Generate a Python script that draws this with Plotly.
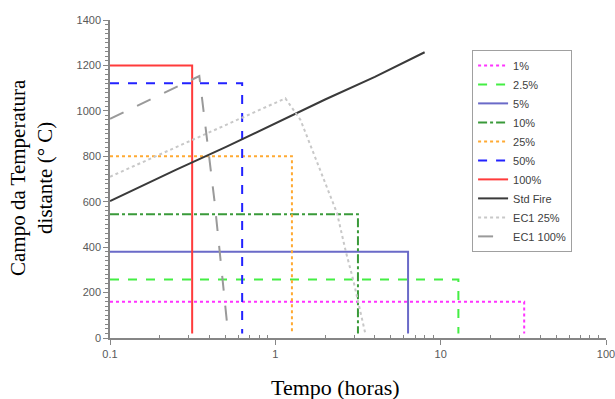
import plotly.graph_objects as go

# Fire-resistance rectangles: temperature level and end time (hours)
rect_names = ["1%", "2.5%", "5%", "10%", "25%", "50%", "100%"]
rect_levels = [160, 258, 380, 545, 800, 1122, 1200]
rect_end_hours = [32, 12.8, 6.35, 3.16, 1.26, 0.63, 0.314]
rect_start_hour = 0.1
rect_floor = 20

# Standard fire curve
std_t = [0.1, 0.25, 0.5, 1, 2, 4, 8]
std_T = [603, 740, 840, 945, 1050, 1150, 1258]

# EC1 25% curve
ec25_t = [0.1, 1.15, 1.42, 2.05, 2.36, 2.67, 2.96, 3.5]
ec25_T = [710, 1055, 960, 666, 550, 380, 255, 20]

# EC1 100% curve
ec100_t = [0.1, 0.347, 0.428, 0.518]
ec100_T = [965, 1153, 607, 20]

x_ticks = [0.1, 1, 10, 100]
x_tick_text = ["0.1", "1", "10", "100"]
x_minor_ticks = [0.2, 0.3, 0.4, 0.5, 0.6, 0.7, 0.8, 0.9,
                 2, 3, 4, 5, 6, 7, 8, 9,
                 20, 30, 40, 50, 60, 70, 80, 90]
y_ticks = [0, 200, 400, 600, 800, 1000, 1200, 1400]

rect_styles = [
    dict(color="#FF33FF", dash="dot", width=2),
    dict(color="#44EE44", dash="dash", width=2),
    dict(color="#6A6AC8", dash="solid", width=2),
    dict(color="#3A9A3A", dash="dashdot", width=2),
    dict(color="#FFAA33", dash="dot", width=2),
    dict(color="#2222FF", dash="dash", width=2),
    dict(color="#FF3B3B", dash="solid", width=2),
]

fig = go.Figure()
for name, lvl, tend, st in zip(rect_names, rect_levels, rect_end_hours, rect_styles):
    fig.add_trace(go.Scatter(x=[rect_start_hour, tend, tend], y=[lvl, lvl, rect_floor],
                             mode="lines", name=name, line=st))

fig.add_trace(go.Scatter(x=std_t, y=std_T, mode="lines", name="Std Fire",
                         line=dict(color="#3A3A3A", width=2)))
fig.add_trace(go.Scatter(x=ec25_t, y=ec25_T, mode="lines", name="EC1 25%",
                         line=dict(color="#C8C8C8", dash="dot", width=2)))
fig.add_trace(go.Scatter(x=ec100_t, y=ec100_T, mode="lines", name="EC1 100%",
                         line=dict(color="#9A9A9A", dash="longdash", width=2)))

axis_color = "#868686"
tick_font = dict(family="Liberation Sans", size=11, color="#595959")

fig.update_layout(
    width=615, height=399,
    margin=dict(l=110, r=9, t=20, b=61, autoexpand=False),
    paper_bgcolor="white", plot_bgcolor="white",
    showlegend=True,
    legend=dict(x=0.73, y=0.906, xanchor="left", yanchor="top",
                bgcolor="white", bordercolor="#A0A0A0", borderwidth=1,
                font=dict(family="Liberation Sans", size=11, color="#404040"),
                tracegroupgap=0),
    xaxis=dict(type="log", range=[-1, 2], tickmode="array", tickvals=x_ticks, ticktext=x_tick_text,
               automargin=False, ticklabeloverflow="allow",
               showgrid=False, zeroline=False, showline=True, linecolor=axis_color, linewidth=1.5,
               ticks="outside", ticklen=5, tickcolor=axis_color, tickfont=tick_font,
               minor=dict(tickmode="array", tickvals=x_minor_ticks, ticks="inside", ticklen=3,
                          tickcolor=axis_color, showgrid=False)),
    yaxis=dict(range=[0, 1400], tickmode="array", tickvals=y_ticks, automargin=False,
               ticklabeloverflow="allow",
               showgrid=False, zeroline=False,
               showline=True, linecolor=axis_color, linewidth=1.5,
               ticks="outside", ticklen=5, tickcolor=axis_color, tickfont=tick_font,
               minor=dict(dtick=20, ticks="outside", ticklen=3, tickcolor=axis_color, showgrid=False)),
    annotations=[
        dict(text="Tempo (horas)", xref="paper", yref="paper",
             x=(335 - 110) / 496, y=-(387 - 338) / 318, xanchor="center", yanchor="middle",
             showarrow=False,
             font=dict(family="Liberation Serif", size=22, color="black")),
        dict(text="Campo da Temperatura<br>distante (° C)", xref="paper", yref="paper",
             x=-(110 - 31) / 496, y=(338 - 178) / 318, xanchor="center", yanchor="middle",
             showarrow=False, textangle=-90,
             font=dict(family="Liberation Serif", size=21, color="black")),
    ],
)

fig.write_html("out.html", config={"displayModeBar": False},
               post_script="document.body.style.margin='0';document.body.style.overflow='hidden';")
